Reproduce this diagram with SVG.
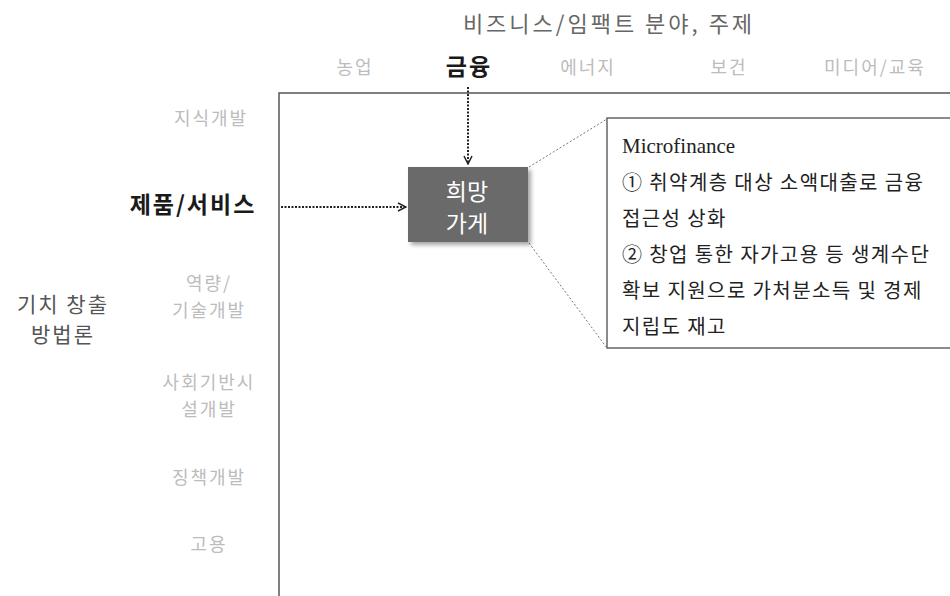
<svg xmlns="http://www.w3.org/2000/svg" width="950" height="596" viewBox="0 0 950 596">
<style>
text{font-family:"Noto Sans CJK KR","Liberation Sans",sans-serif}
.lt{fill:#bcbcbc;font-size:18px;letter-spacing:2px;text-anchor:middle}
.hd{fill:#1a1a1a;font-size:23px;font-weight:bold;letter-spacing:2px;text-anchor:middle}
.ax{stroke:#555;stroke-width:1.5;fill:none}
.dot{stroke:#222;stroke-width:2;stroke-dasharray:2 1.5;fill:none}
.thin{stroke:#777;stroke-width:1;stroke-dasharray:2 2;fill:none}
.cb{fill:#222;font-size:20px;letter-spacing:1.4px}
.nd{fill:#fff;font-size:23px;text-anchor:middle}
</style>
<defs>
<marker id="arr" viewBox="0 0 10 10" refX="9" refY="5" markerWidth="10" markerHeight="10" markerUnits="userSpaceOnUse" orient="auto">
<path d="M1,1 L9,5 L1,9" fill="none" stroke="#222" stroke-width="1.5"/>
</marker>
<filter id="sh" x="-10%" y="-10%" width="130%" height="130%">
<feDropShadow dx="3" dy="3" stdDeviation="2" flood-color="#000" flood-opacity="0.35"/>
</filter>
</defs>
<rect width="950" height="596" fill="#fff"/>
<g id="axes">
<path class="ax" d="M279,596 L279,93 L950,93"/>
</g>
<g id="header">
<text x="609" y="32" fill="#666" font-size="22" letter-spacing="3" text-anchor="middle">비즈니스/임팩트 분야, 주제</text>
<text class="lt" x="355" y="74">농업</text>
<text class="hd" x="469" y="75">금융</text>
<text class="lt" x="588" y="74">에너지</text>
<text class="lt" x="729" y="74">보건</text>
<text class="lt" x="875" y="74">미디어/교육</text>
</g>
<g id="rows">
<text class="lt" x="211" y="125">지식개발</text>
<text class="hd" x="193" y="213">제품/서비스</text>
<text class="lt" x="209" y="290">역량/</text>
<text class="lt" x="209" y="317">기술개발</text>
<text x="63" y="312" fill="#555" font-size="21" letter-spacing="2" text-anchor="middle">기치 창출</text>
<text x="63" y="342" fill="#555" font-size="21" letter-spacing="2" text-anchor="middle">방법론</text>
<text class="lt" x="209" y="389">사회기반시</text>
<text class="lt" x="209" y="416">설개발</text>
<text class="lt" x="209" y="484">징책개발</text>
<text class="lt" x="209" y="551">고용</text>
</g>
<g id="connectors">
<line class="dot" x1="468" y1="87" x2="468" y2="164" marker-end="url(#arr)"/>
<line class="dot" x1="281" y1="207" x2="406" y2="207" marker-end="url(#arr)"/>
<line class="thin" x1="529" y1="167" x2="607" y2="119"/>
<line class="thin" x1="529" y1="243" x2="607" y2="348"/>
</g>
<g id="node-hope">
<rect x="408" y="167" width="120" height="75" fill="#6b6b6b" filter="url(#sh)"/>
<text class="nd" x="467" y="200">희망</text>
<text class="nd" x="467" y="232">가게</text>
</g>
<g id="node-callout">
<rect x="607" y="118" width="360" height="230" fill="#fff" stroke="#666" stroke-width="1.5"/>
<text x="622" y="153" fill="#222" font-size="21" style="font-family:'Liberation Serif',serif">Microfinance</text>
<text class="cb" x="622" y="190">① 취약계층 대상 소액대출로 금융</text>
<text class="cb" x="622" y="226">접근성 상화</text>
<text class="cb" x="622" y="262">② 창업 통한 자가고용 등 생계수단</text>
<text class="cb" x="622" y="298">확보 지원으로 가처분소득 및 경제</text>
<text class="cb" x="622" y="334">지립도 재고</text>
</g>
</svg>
